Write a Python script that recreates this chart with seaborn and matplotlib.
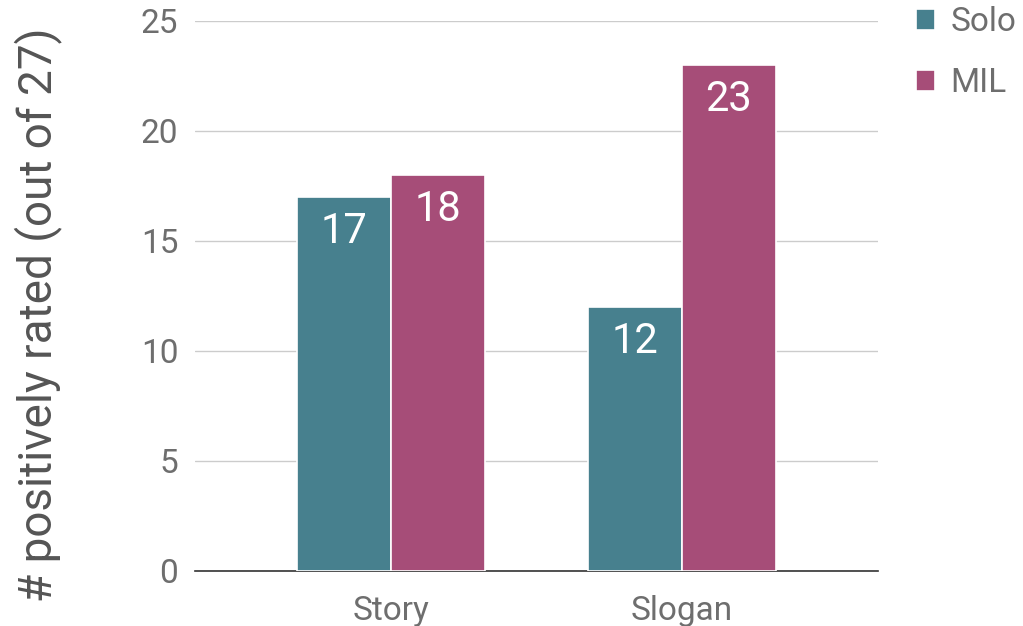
import pandas as pd
import matplotlib.pyplot as plt
import seaborn as sns

# data
tasks = ['Story', 'Slogan']
conditions = ['Solo', 'MIL']
solo_vals = [17, 12]
mil_vals = [18, 23]
palette = {'Solo': '#47808E', 'MIL': '#A64D78'}

df = pd.DataFrame({
    'task': tasks * 2,
    'cond': ['Solo'] * len(tasks) + ['MIL'] * len(tasks),
    'n': solo_vals + mil_vals,
})

sns.set_theme(style='white')
plt.rcParams['font.family'] = ['Roboto', 'DejaVu Sans']

fig = plt.figure(figsize=(10.23, 6.26), dpi=100)
ax = fig.add_axes([0.1906, 0.0879, 0.6676, 0.8786])

sns.barplot(data=df, x='task', y='n', hue='cond', hue_order=conditions,
            palette=palette, width=0.645, gap=0, edgecolor='white',
            linewidth=1.2, saturation=1, ax=ax, zorder=3)

# value labels inside bars
for cont in ax.containers:
    for t in ax.bar_label(cont, padding=-25, color='white', fontsize=30):
        t.set_va('center')

ax.set_ylim(0, 25)
ax.set_yticks([0, 5, 10, 15, 20, 25])
ax.set_xlim(-0.674, 1.674)
ax.yaxis.grid(True, color='#cccccc', linewidth=1, zorder=0)
ax.set_axisbelow(True)
for s in ['top', 'right', 'left']:
    ax.spines[s].set_visible(False)
ax.spines['bottom'].set_color('#333333')
ax.spines['bottom'].set_linewidth(1.2)
ax.tick_params(axis='both', length=0, labelsize=24, colors='#6e6e6e')
ax.tick_params(axis='x', pad=17)
ax.tick_params(axis='y', pad=12)
ax.set_xlabel('')
ax.set_ylabel('# positively rated (out of 27)', fontsize=33, color='#555555')
ax.yaxis.set_label_coords(-0.194, 0.465)

ax.legend(loc='upper left', bbox_to_anchor=(916 / 1023, 1 - 6 / 626),
          bbox_transform=fig.transFigure, frameon=False, borderaxespad=0,
          borderpad=0, fontsize=24, labelcolor='#6e6e6e', handlelength=0.58,
          handleheight=0.58, handletextpad=0.45, labelspacing=0.88)

plt.savefig('out.png', dpi=100)
